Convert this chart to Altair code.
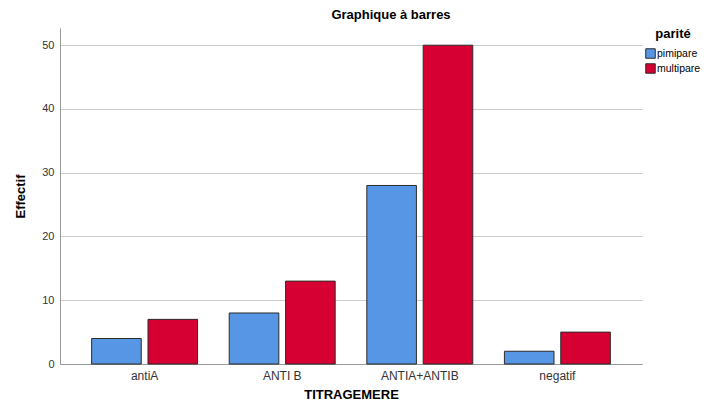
import altair as alt
import pandas as pd

categories = ["antiA", "ANTI B", "ANTIA+ANTIB", "negatif"]
pimipare = [4, 8, 28, 2]
multipare = [7, 13, 50, 5]
groups = ["pimipare", "multipare"]

rows = []
for c, p, m in zip(categories, pimipare, multipare):
    rows.append({"TITRAGEMERE": c, "parité": "pimipare", "Effectif": p})
    rows.append({"TITRAGEMERE": c, "parité": "multipare", "Effectif": m})
df = pd.DataFrame(rows)

FONT = "Liberation Sans"

chart = alt.Chart(df).mark_bar(stroke="#2b2b2b", strokeWidth=1).encode(
    x=alt.X("TITRAGEMERE:N", sort=categories,
            scale=alt.Scale(paddingInner=0.23, paddingOuter=0.23),
            axis=alt.Axis(title="TITRAGEMERE", labelAngle=0, ticks=False,
                          labelFontSize=12, labelColor="#333333", labelPadding=6,
                          titleFontSize=13, titleFontWeight="bold", titlePadding=7,
                          domainColor="#999999", labelFont=FONT, titleFont=FONT)),
    xOffset=alt.XOffset("parité:N", sort=groups,
                        scale=alt.Scale(paddingInner=0.12, paddingOuter=0)),
    y=alt.Y("Effectif:Q", scale=alt.Scale(domain=[0, 52.7], nice=False),
            axis=alt.Axis(title="Effectif", values=[0, 10, 20, 30, 40, 50], ticks=False,
                          labelFontSize=11, labelColor="#333333", labelPadding=6,
                          titleFontSize=13, titleFontWeight="bold", titlePadding=14,
                          domainColor="#999999", gridColor="#cccccc",
                          labelFont=FONT, titleFont=FONT)),
    color=alt.Color("parité:N", sort=groups,
                    scale=alt.Scale(domain=groups, range=["#5795e5", "#d70033"]),
                    legend=alt.Legend(title="parité", orient="right", offset=3,
                                      symbolType="square", symbolSize=90,
                                      symbolStrokeColor="#2b2b2b", symbolStrokeWidth=1,
                                      labelFontSize=10.5, titleFontSize=13,
                                      titleFontWeight="bold", labelFont=FONT,
                                      titleFont=FONT, padding=0, rowPadding=0,
                                      labelOffset=1, titleAnchor="middle",
                                      titlePadding=7)),
).properties(
    width=582,
    height=336,
    title=alt.TitleParams("Graphique à barres", fontSize=13, fontWeight="bold",
                          font=FONT, anchor="middle", dx=40, offset=6),
    autosize=alt.AutoSizeParams(type="none"),
    padding={"left": 52, "top": 20, "right": 63, "bottom": 41},
).configure_view(stroke=None)

chart.save("out.html", embed_options={"renderer": "svg", "actions": False})
